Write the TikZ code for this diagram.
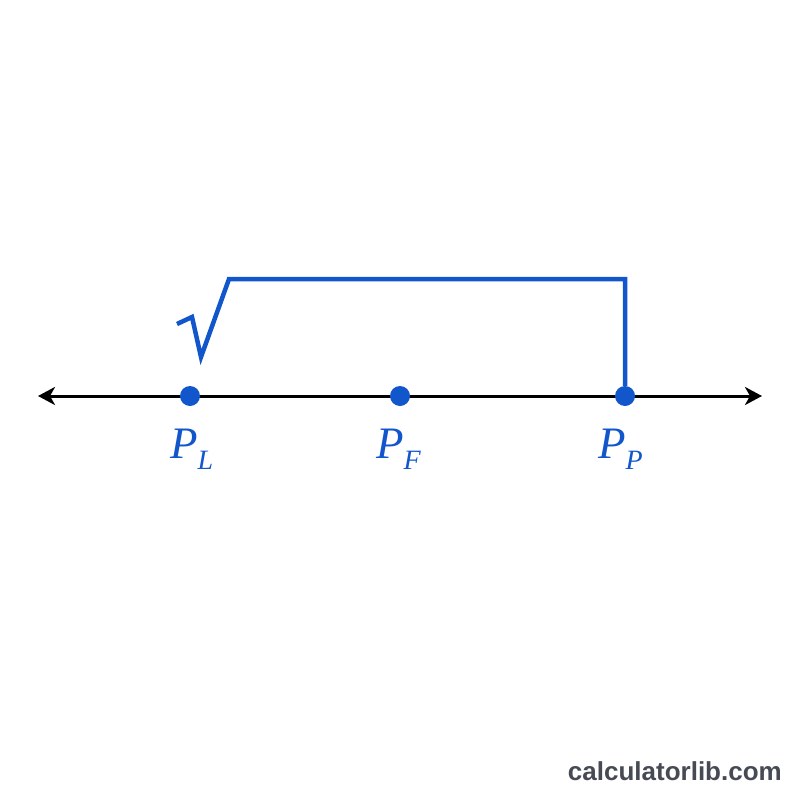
\documentclass[tikz,border=0pt]{standalone}
\usepackage{fontspec}
\setmainfont{Liberation Serif}
\newfontfamily\wmfont{Liberation Sans}
\usetikzlibrary{arrows.meta}
\definecolor{ptblue}{RGB}{18,86,204}
\definecolor{wmgray}{RGB}{70,74,84}
\tikzset{
  axis/.style={line width=3pt, black, {Stealth[length=17pt,width=18pt,inset=5pt]}-{Stealth[length=17pt,width=18pt,inset=5pt]}},
  ptdot/.style={circle, fill=ptblue, inner sep=0pt, minimum size=20pt},
  ptlabel/.style={anchor=base west, inner sep=0pt, text=ptblue, font=\fontsize{45}{45}\selectfont\itshape},
  radical/.style={line width=4.5pt, ptblue, line join=miter, line cap=butt},
}
\newcommand{\subL}[1]{\raisebox{-11pt}{\fontsize{28}{28}\selectfont #1}}
\begin{document}
\begin{tikzpicture}[x=1pt,y=-1pt]
\useasboundingbox (0,0) rectangle (800,800);
\coordinate (axL) at (38,396);
\coordinate (axR) at (762,396);
\draw[axis] (axL) -- (axR);
\node[ptdot] (dL) at (190,396) {};
\node[ptdot] (dF) at (400,396) {};
\node[ptdot] (dP) at (625,396) {};
\node[ptlabel] (lL) at (170,458) {P\subL{L}};
\node[ptlabel] (lF) at (376,458) {P\subL{F}};
\node[ptlabel] (lP) at (598,458) {P\subL{P}};
\coordinate (r1) at (177,324);
\coordinate (r2) at (192,317);
\coordinate (r3) at (201,357);
\coordinate (r4) at (229,279);
\coordinate (r5) at (625,279);
\draw[radical] (r1) -- (r2) -- (r3) -- (r4) -- (r5) -- (dP.north);
\node[anchor=base east, inner sep=0pt, text=wmgray, font=\wmfont\bfseries\fontsize{26}{26}\selectfont] (wm) at (782,780) {calculatorlib.com};
\end{tikzpicture}
\end{document}
